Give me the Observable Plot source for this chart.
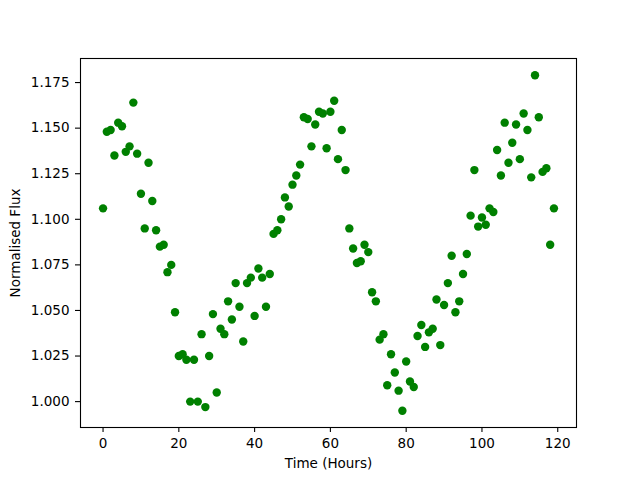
<!DOCTYPE html>
<html>
<head>
<meta charset="utf-8">
<script src="https://cdn.jsdelivr.net/npm/d3@7"></script>
<script src="https://cdn.jsdelivr.net/npm/@observablehq/plot@0.6"></script>
<style>
  html, body { margin: 0; padding: 0; background: #fff; }
  #chart { width: 640px; height: 480px; }
</style>
</head>
<body>
<div id="chart"></div>
<script>
const hours = [0,1,2,3,4,5,6,7,8,9,10,11,12,13,14,15,16,17,18,19,
  20,21,22,23,24,25,26,27,28,29,30,31,32,33,34,35,36,37,38,39,
  40,41,42,43,44,45,46,47,48,49,50,51,52,53,54,55,56,57,58,59,
  60,61,62,63,64,65,66,67,68,69,70,71,72,73,74,75,76,77,78,79,
  80,81,82,83,84,85,86,87,88,89,90,91,92,93,94,95,96,97,98,99,
  100,101,102,103,104,105,106,107,108,109,110,111,112,113,114,115,116,117,118,119];
const flux = [1.106,1.148,1.149,1.135,1.153,1.151,1.137,1.140,1.164,1.136,
  1.114,1.095,1.131,1.110,1.094,1.085,1.086,1.071,1.075,1.049,
  1.025,1.026,1.023,1.000,1.023,1.000,1.037,0.997,1.025,1.048,
  1.005,1.040,1.037,1.055,1.045,1.065,1.052,1.033,1.065,1.068,
  1.047,1.073,1.068,1.052,1.070,1.092,1.094,1.100,1.112,1.107,
  1.119,1.124,1.130,1.156,1.155,1.140,1.152,1.159,1.158,1.139,
  1.159,1.165,1.133,1.149,1.127,1.095,1.084,1.076,1.077,1.086,
  1.082,1.060,1.055,1.034,1.037,1.009,1.026,1.016,1.006,0.995,
  1.022,1.011,1.008,1.036,1.042,1.030,1.038,1.040,1.056,1.031,
  1.053,1.065,1.080,1.049,1.055,1.070,1.081,1.102,1.127,1.096,
  1.101,1.097,1.106,1.104,1.138,1.124,1.153,1.131,1.142,1.152,
  1.133,1.158,1.149,1.123,1.179,1.156,1.126,1.128,1.086,1.106];
const xTicks = [0, 20, 40, 60, 80, 100, 120];
const yTicks = [1.000, 1.025, 1.050, 1.075, 1.100, 1.125, 1.150, 1.175];
const xLabel = "Time (Hours)";
const yLabel = "Normalised Flux";

const data = hours.map((h, i) => ({hour: h, flux: flux[i]}));

function padded(ext) {
  const m = (ext[1] - ext[0]) * 0.05;
  return [ext[0] - m, ext[1] + m];
}

const chart = Plot.plot({
  width: 640,
  height: 480,
  marginLeft: 80,
  marginRight: 64,
  marginTop: 58,
  marginBottom: 53,
  style: {fontFamily: "DejaVu Sans", fontSize: "13.5px", color: "black", background: "white"},
  x: {domain: padded(d3.extent(hours))},
  y: {domain: padded(d3.extent(flux))},
  marks: [
    Plot.dot(data, {x: "hour", y: "flux", r: 4.2, fill: "#008000", stroke: "none"}),
    Plot.frame({stroke: "black", strokeWidth: 1.1}),
    Plot.axisX({ticks: xTicks, tickSize: 5, tickPadding: 6, strokeWidth: 1.1, tickFormat: d3.format("d"),
      label: xLabel, labelAnchor: "center", labelArrow: "none", labelOffset: 40}),
    Plot.axisY({ticks: yTicks, tickSize: 5, tickPadding: 6, strokeWidth: 1.1, tickFormat: d3.format(".3f"),
      label: yLabel, labelAnchor: "center", labelArrow: "none", labelOffset: 70})
  ]
});
document.getElementById("chart").appendChild(chart);
</script>
</body>
</html>
